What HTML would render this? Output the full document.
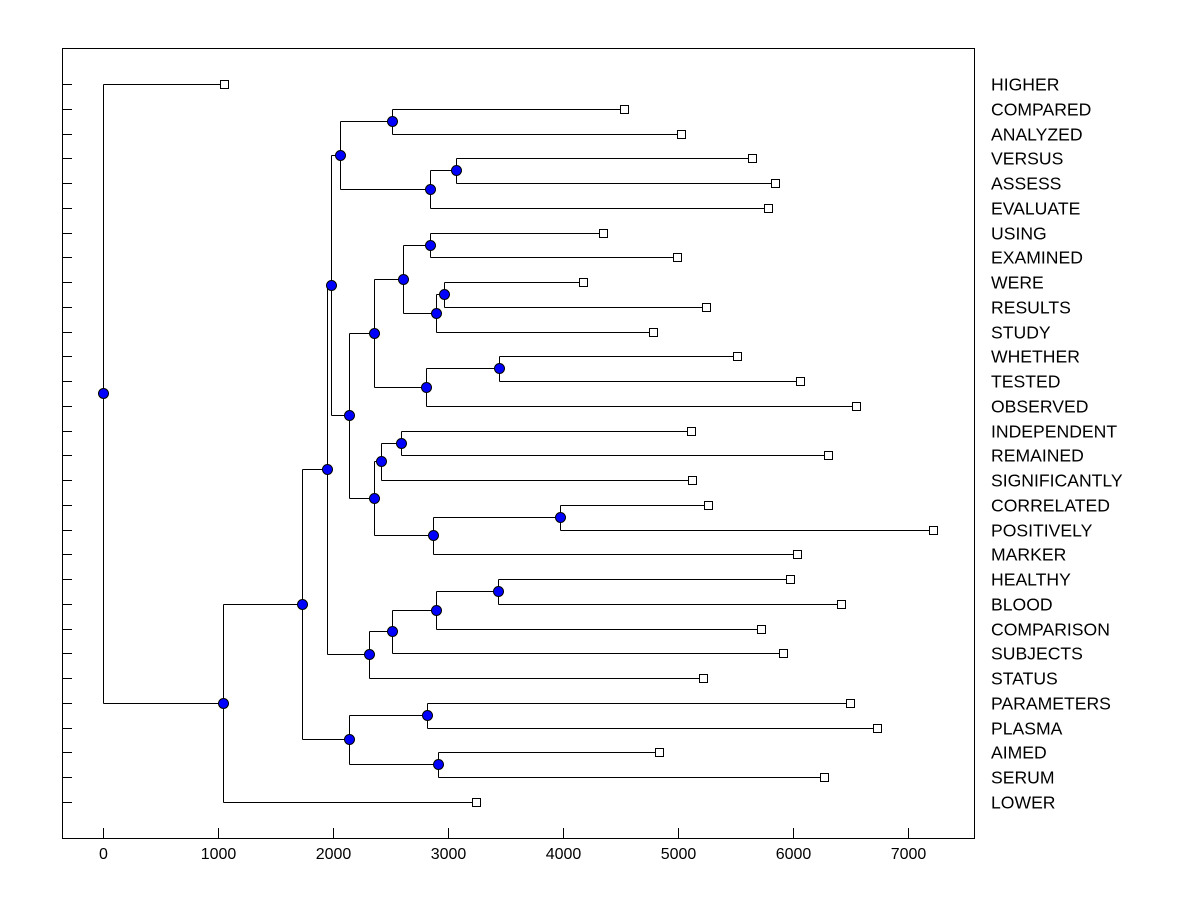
<!DOCTYPE html>
<html><head><meta charset="utf-8"><style>
body{margin:0;background:#fff}
svg text{font-family:"Liberation Sans",Arial,sans-serif;font-size:16px;fill:#000}
svg text.lab{font-size:17.6px}
</style></head><body>
<svg id="chart" width="1200" height="900" xmlns="http://www.w3.org/2000/svg">
<rect x="62.5" y="48.5" width="912" height="790" fill="none" stroke="#000"/>
<g id="g"></g>
</svg>
<script>
const leaves=["HIGHER","COMPARED","ANALYZED","VERSUS","ASSESS","EVALUATE","USING","EXAMINED","WERE","RESULTS","STUDY","WHETHER","TESTED","OBSERVED","INDEPENDENT","REMAINED","SIGNIFICANTLY","CORRELATED","POSITIVELY","MARKER","HEALTHY","BLOOD","COMPARISON","SUBJECTS","STATUS","PARAMETERS","PLASMA","AIMED","SERUM","LOWER"];
const leafValues=[1052,4530,5026,5643,5843,5783,4348,4991,4174,5243,4783,5513,6061,6548,5113,6304,5122,5261,7217,6035,5974,6417,5722,5913,5217,6496,6730,4835,6270,3243];
// merges: [id, childA, childB, height]
const merges=[
["N11","VERSUS","ASSESS",3070],
["N10","N11","EVALUATE",2843],
["N9","COMPARED","ANALYZED",2513],
["N7","N9","N10",2061],
["N16","USING","EXAMINED",2843],
["N18","WERE","RESULTS",2965],
["N17","N18","STUDY",2896],
["N14","N16","N17",2609],
["N19","WHETHER","TESTED",3443],
["N15","N19","OBSERVED",2809],
["N12","N14","N15",2357],
["N22","INDEPENDENT","REMAINED",2591],
["N20","N22","SIGNIFICANTLY",2417],
["N23","CORRELATED","POSITIVELY",3974],
["N21","N23","MARKER",2870],
["N13","N20","N21",2357],
["N8","N12","N13",2139],
["N5","N7","N8",1983],
["N26","HEALTHY","BLOOD",3435],
["N25","N26","COMPARISON",2896],
["N24","N25","SUBJECTS",2513],
["N6","N24","STATUS",2313],
["N3","N5","N6",1948],
["N27","PARAMETERS","PLASMA",2817],
["N28","AIMED","SERUM",2913],
["N4","N27","N28",2139],
["N2","N3","N4",1730],
["N1","N2","LOWER",1043],
["ROOT","HIGHER","N1",0]];
const xTicks=[0,1000,2000,3000,4000,5000,6000,7000];
const X=v=>Math.round(103+v*0.115)+0.5, Y=i=>Math.round(84+i*(718/29))+0.5;
const NS="http://www.w3.org/2000/svg", g=document.getElementById('g');
function mk(t,a){const e=document.createElementNS(NS,t);for(const k in a)e.setAttribute(k,a[k]);g.appendChild(e);return e;}
const pos={};
leaves.forEach((n,i)=>{pos[n]={x:X(leafValues[i]),y:Y(i)};});
merges.forEach(m=>{const a=pos[m[1]],b=pos[m[2]];pos[m[0]]={x:X(m[3]),y:Math.floor((a.y+b.y-1)/2)+0.5};});
merges.forEach(m=>{const p=pos[m[0]],a=pos[m[1]],b=pos[m[2]];
 let e=mk('path',{d:`M${p.x},${a.y}H${a.x}M${p.x},${b.y}H${b.x}M${p.x},${a.y}V${b.y}`,stroke:'#000',fill:'none','stroke-width':1});
 
 
});
leaves.forEach((n,i)=>{const p=pos[n];
 let t=mk('line',{x1:62,x2:72,y1:p.y,y2:p.y,stroke:'#000'});
 
 
 let r=mk('rect',{x:p.x-4,y:p.y-4,width:8,height:8,fill:'#fff',stroke:'#000'});
 
 
 let l=mk('text',{x:991,y:p.y+6,class:'lab'});l.textContent=n;
 
 
});
merges.forEach(m=>{const p=pos[m[0]];
 let c=mk('circle',{cx:p.x,cy:p.y,r:5,fill:'#0000ff',stroke:'#000'});
 
 
});
xTicks.forEach(v=>{
 let t=mk('line',{x1:X(v),x2:X(v),y1:828,y2:838,stroke:'#000'});
 
 
 let l=mk('text',{x:X(v),y:859,'text-anchor':'middle'});l.textContent=v;
 
 
});
</script>
</body></html>
